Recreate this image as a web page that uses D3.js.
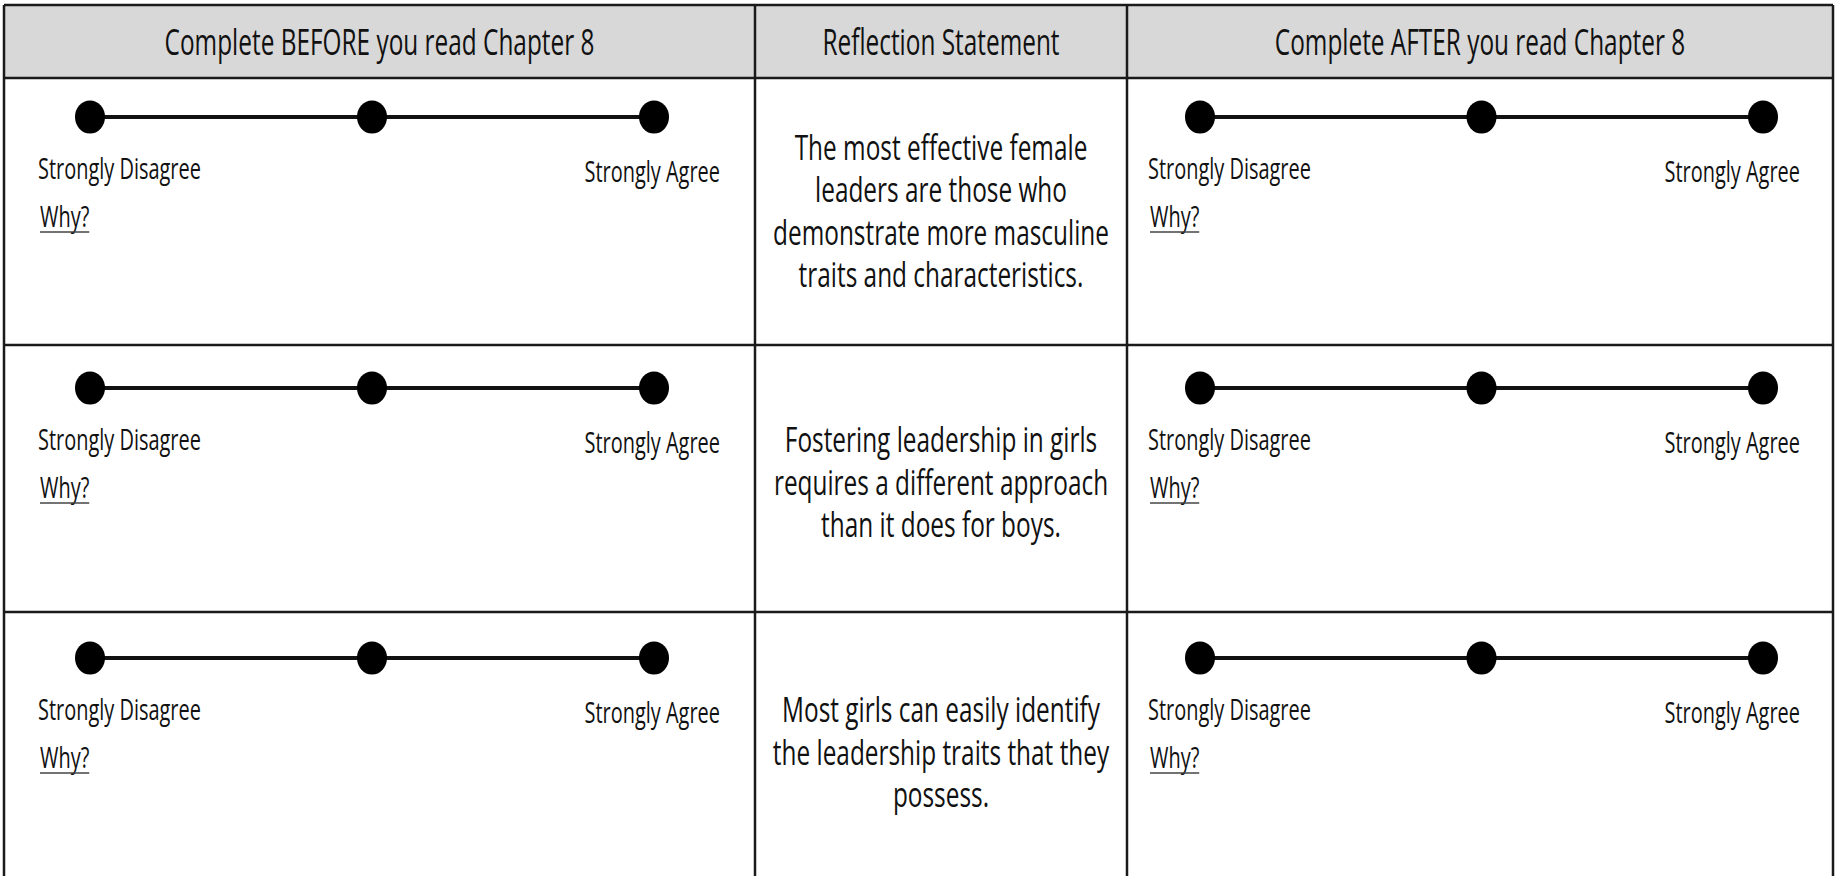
<!DOCTYPE html>
<html>
<head>
<meta charset="utf-8">
<script src="https://cdn.jsdelivr.net/npm/d3@7"></script>
<style>
  html, body { margin: 0; padding: 0; background: #fff; }
  svg { display: block; }
</style>
</head>
<body>
<svg id="chart" width="1835" height="876"></svg>
<script>
// ---------- data ----------
const columnTitles = ["Complete BEFORE you read Chapter 8", "Reflection Statement", "Complete AFTER you read Chapter 8"];
const statements = [
  ["The most effective female", "leaders are those who", "demonstrate more masculine", "traits and characteristics."],
  ["Fostering leadership in girls", "requires a different approach", "than it does for boys."],
  ["Most girls can easily identify", "the leadership traits that they", "possess."]
];
const scaleSteps = ["Strongly Disagree", "Neutral", "Strongly Agree"];
const scaleEndLabels = ["Strongly Disagree", "Strongly Agree"];
const whyLabel = "Why?";
const responseColumns = [0, 2];

// ---------- layout ----------
const colEdges = [4, 755, 1127, 1833];
const rowEdges = [5, 78, 345, 612, 879];
const sliderRanges = { 0: [90, 654], 2: [1200, 1763] };
const agreeRight = { 0: 720, 2: 1800 };
const sliderOffsets = [39, 43, 46];
const statementShift = [0, 4, 7];
const FONT = "'Open Sans', 'Noto Sans', sans-serif";
const HEADER_SIZE = 36, STATEMENT_SIZE = 34, LABEL_SIZE = 29;

const svg = d3.select("#chart");

// header background
svg.append("rect")
  .attr("x", colEdges[0]).attr("y", rowEdges[0])
  .attr("width", colEdges[3] - colEdges[0]).attr("height", rowEdges[1] - rowEdges[0])
  .attr("fill", "#d8d8d8");

// horizontal condensation factor, from one sample string's width in the reference
function condenseFactor(sample, size, weight, target) {
  const t = svg.append("text").attr("font-family", FONT).attr("font-size", size)
    .attr("font-weight", weight).text(sample);
  const w = t.node().getComputedTextLength();
  t.remove();
  return target / w;
}
const kHeader = condenseFactor(columnTitles[0], HEADER_SIZE, 500, 430);
const kStatement = condenseFactor("demonstrate more masculine", STATEMENT_SIZE, 500, 336);
const kLabel = condenseFactor("Strongly Disagree", LABEL_SIZE, 400, 163);

// places a condensed text: group translated to (x,y), scaled horizontally
function addText(parent, x, y, str, opts) {
  const g = parent.append("g").attr("transform", `translate(${x},${y}) scale(${opts.k},1)`);
  const t = g.append("text")
    .attr("x", 0).attr("y", 0)
    .attr("text-anchor", opts.anchor || "start")
    .attr("font-family", FONT).attr("font-size", opts.size)
    .attr("font-weight", opts.weight || 400)
    .attr("fill", "#111")
    .text(str);
  return { g, t, width: t.node().getComputedTextLength() * opts.k };
}

// header titles
columnTitles.forEach((d, i) => {
  addText(svg, (colEdges[i] + colEdges[i + 1]) / 2, 55, d,
    { k: kHeader, size: HEADER_SIZE, weight: 500, anchor: "middle" });
});

// statements
const lineH = 42.5;
statements.forEach((lines, r) => {
  const top = rowEdges[r + 1], bot = rowEdges[r + 2];
  const cy = (top + bot) / 2 + statementShift[r];
  const first = cy - (lines.length - 1) / 2 * lineH + 12;
  const g = svg.append("g");
  lines.forEach((d, i) => {
    addText(g, (colEdges[1] + colEdges[2]) / 2, first + i * lineH, d,
      { k: kStatement, size: STATEMENT_SIZE, weight: 500, anchor: "middle" });
  });
});

// sliders
responseColumns.forEach(c => {
  const x = d3.scalePoint().domain(scaleSteps).range(sliderRanges[c]);
  statements.forEach((s, r) => {
    const y = rowEdges[r + 1] + sliderOffsets[r];
    const g = svg.append("g");
    g.append("line")
      .attr("x1", x(scaleSteps[0])).attr("x2", x(scaleSteps[scaleSteps.length - 1]))
      .attr("y1", y).attr("y2", y)
      .attr("stroke", "#111").attr("stroke-width", 4);
    g.selectAll("ellipse").data(scaleSteps).join("ellipse")
      .attr("cx", d => x(d)).attr("cy", y)
      .attr("rx", 15).attr("ry", 16.5)
      .attr("fill", "#000");

    addText(g, x(scaleSteps[0]) - 52, y + 62, scaleEndLabels[0],
      { k: kLabel, size: LABEL_SIZE, anchor: "start" });
    addText(g, agreeRight[c], y + 65, scaleEndLabels[1],
      { k: kLabel, size: LABEL_SIZE, anchor: "end" });

    const wx = x(scaleSteps[0]) - 50, wy = y + 110;
    const why = addText(g, wx, wy, whyLabel, { k: kLabel, size: LABEL_SIZE, anchor: "start" });
    g.append("line")
      .attr("x1", wx).attr("x2", wx + why.width)
      .attr("y1", wy + 5).attr("y2", wy + 5)
      .attr("stroke", "#444").attr("stroke-width", 1.5);
  });
});

// grid lines
const gridColor = "#1a1a1a";
svg.append("g").selectAll("line").data(rowEdges).join("line")
  .attr("x1", colEdges[0]).attr("x2", colEdges[3])
  .attr("y1", d => d).attr("y2", d => d)
  .attr("stroke", gridColor).attr("stroke-width", 2.5);
svg.append("g").selectAll("line").data(colEdges).join("line")
  .attr("x1", d => d).attr("x2", d => d)
  .attr("y1", rowEdges[0]).attr("y2", rowEdges[rowEdges.length - 1])
  .attr("stroke", gridColor).attr("stroke-width", 2.5);
</script>
</body>
</html>
